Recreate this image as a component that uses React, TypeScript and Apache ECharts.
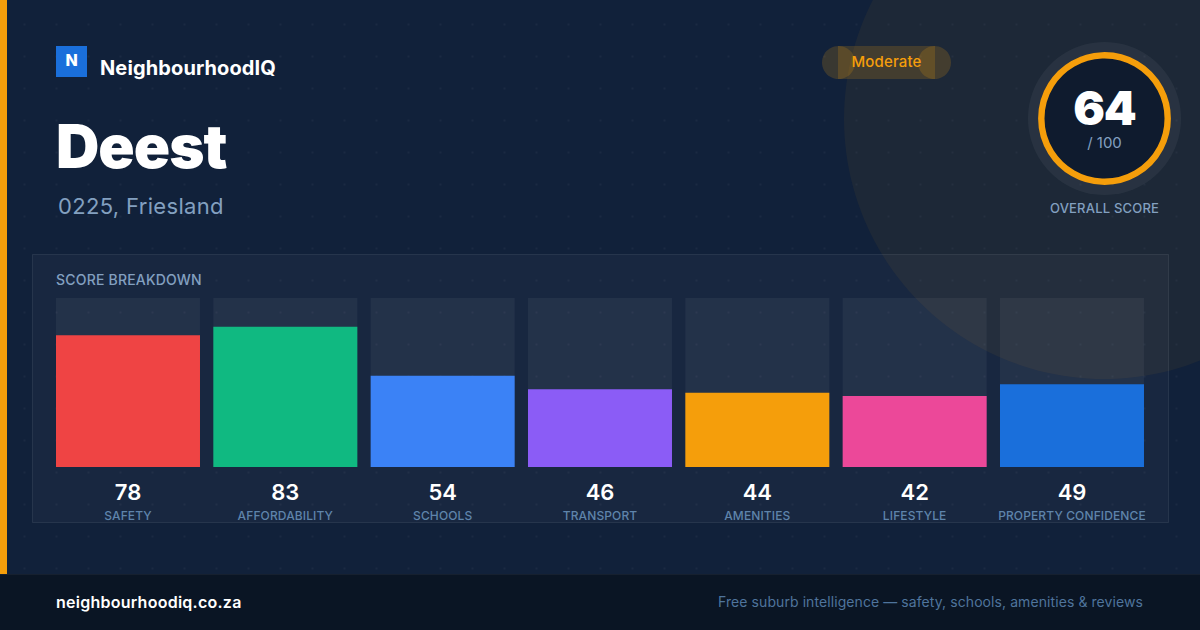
import { useEffect, useRef } from 'react'
import * as echarts from 'echarts'

const categories = ['SAFETY', 'AFFORDABILITY', 'SCHOOLS', 'TRANSPORT', 'AMENITIES', 'LIFESTYLE', 'PROPERTY CONFIDENCE']
const scores = [78, 83, 54, 46, 44, 42, 49]
const barColors = ['#ef4444', '#10b981', '#3b82f6', '#8b5cf6', '#f59e0b', '#ec4899', '#1a6fdb']
const trackValues = [100, 100, 100, 100, 100, 100, 100]

const FONT = 'Inter, "Noto Sans", sans-serif'
const AMBER = '#f59e0b'
const PILL_FILL = 'rgba(245, 158, 11, 0.18)'
const MUTED = '#83a0c0'

// zrender has no letter spacing, so it goes onto the svg text nodes after render
const letterSpacing: Record<string, number> = {
  NeighbourhoodIQ: 0.12,
  Deest: -1,
  '64': -1,
  '0225, Friesland': 0.33,
  Moderate: 0.15,
  'OVERALL SCORE': 0.2,
  'SCORE BREAKDOWN': 0.2,
  'neighbourhoodiq.co.za': 0.25,
  'Free suburb intelligence — safety, schools, amenities & reviews': 0.08
}
categories.forEach((name) => {
  letterSpacing[name] = 0.12
})

const label = (x: number, y: number, text: string, fontSize: number, fontWeight: number, fill: string, align = 'left') => ({
  type: 'text',
  x,
  y,
  style: { text, fontFamily: FONT, fontSize, fontWeight, fill, align, verticalAlign: 'middle' }
})

const App = () => {
  const chartRef = useRef<HTMLDivElement>(null)

  useEffect(() => {
    if (!chartRef.current) return
    const chart = echarts.init(chartRef.current, undefined, { renderer: 'svg' })

    const option = {
      animation: false,
      backgroundColor: 'transparent',
      // one band is 144px bar + 13.33px gap, so the grid sticks out half a gap each side
      grid: { left: 49.33, top: 298, width: 1101.33, height: 169 },
      xAxis: {
        type: 'category',
        data: categories,
        axisLine: { show: false },
        axisTick: { show: false },
        axisLabel: {
          interval: 0,
          margin: 13,
          formatter: (name: string, i: number) => `{value|${scores[i]}}\n{name|${name}}`,
          rich: {
            value: { fontFamily: FONT, fontSize: 22, fontWeight: 600, color: '#ffffff', lineHeight: 24, align: 'center' },
            name: { fontFamily: FONT, fontSize: 12, fontWeight: 500, color: '#5f84ab', lineHeight: 23, align: 'center' }
          }
        }
      },
      yAxis: { type: 'value', min: 0, max: 100, show: false },
      series: [
        {
          type: 'bar',
          data: trackValues,
          barWidth: 144,
          barGap: '-100%',
          silent: true,
          itemStyle: { color: 'rgba(255, 255, 255, 0.05)' }
        },
        {
          type: 'bar',
          data: scores.map((value, i) => ({ value, itemStyle: { color: barColors[i] } })),
          barWidth: 144,
          barGap: '-100%'
        }
      ],
      graphic: [
        // page furniture behind the bars
        { type: 'circle', shape: { cx: 1104, cy: 119, r: 260 }, style: { fill: 'rgba(245, 158, 11, 0.055)' } },
        { type: 'rect', shape: { x: 0, y: 0, width: 7, height: 574 }, style: { fill: AMBER } },
        { type: 'rect', shape: { x: 0, y: 574, width: 1200, height: 56 }, style: { fill: '#0a1524' } },
        { type: 'rect', shape: { x: 0, y: 574, width: 1200, height: 1 }, style: { fill: 'rgba(255, 255, 255, 0.05)' } },
        {
          type: 'rect',
          shape: { x: 32.5, y: 254.5, width: 1136, height: 268 },
          style: { fill: 'rgba(255, 255, 255, 0.03)', stroke: 'rgba(255, 255, 255, 0.08)', lineWidth: 1 }
        },

        // header
        { type: 'rect', shape: { x: 56, y: 46, width: 31, height: 31 }, style: { fill: '#1a6fdb' } },
        label(71.5, 60, 'N', 16, 800, '#ffffff', 'center'),
        label(100, 68, 'NeighbourhoodIQ', 20, 700, '#ffffff'),
        label(56, 146, 'Deest', 60, 900, '#ffffff'),
        label(58, 206, '0225, Friesland', 22, 400, MUTED),

        // rating pill, drawn as a bar and two end caps that overlap it
        { type: 'rect', shape: { x: 838, y: 46, width: 97, height: 33 }, style: { fill: PILL_FILL } },
        { type: 'circle', shape: { cx: 838.5, cy: 62.5, r: 16.5 }, style: { fill: PILL_FILL } },
        { type: 'circle', shape: { cx: 934.5, cy: 62.5, r: 16.5 }, style: { fill: PILL_FILL } },
        label(886.5, 61, 'Moderate', 15, 500, AMBER, 'center'),

        // overall score ring
        { type: 'circle', shape: { cx: 1104.5, cy: 118.5, r: 76.5 }, style: { fill: 'rgba(255, 255, 255, 0.05)' } },
        { type: 'circle', shape: { cx: 1104.5, cy: 118.5, r: 63.2 }, style: { fill: '#0f1b2e', stroke: AMBER, lineWidth: 6.4 } },
        label(1104.5, 107.5, '64', 47, 900, '#ffffff', 'center'),
        label(1104.5, 142, '/ 100', 15, 400, MUTED, 'center'),
        label(1104.5, 208, 'OVERALL SCORE', 13, 500, MUTED, 'center'),

        label(56, 279.5, 'SCORE BREAKDOWN', 14, 500, MUTED),

        // footer
        label(56, 601.5, 'neighbourhoodiq.co.za', 16, 600, '#ffffff'),
        label(1143, 601.5, 'Free suburb intelligence — safety, schools, amenities & reviews', 14, 400, '#4f749c', 'right')
      ]
    }

    chart.setOption(option as Record<string, unknown>)

    chartRef.current.querySelectorAll('text').forEach((node) => {
      const spacing = letterSpacing[node.textContent || '']
      if (spacing) node.style.letterSpacing = `${spacing}px`
    })

    return () => {
      chart.dispose()
    }
  }, [])

  return (
    <div
      style={{
        position: 'fixed',
        left: 0,
        top: 0,
        width: 1200,
        height: 630,
        backgroundColor: '#11213a',
        backgroundImage: 'radial-gradient(circle, rgba(255, 255, 255, 0.04) 1px, transparent 1px)',
        backgroundSize: '32px 32px',
        backgroundPosition: '8.5px 8.5px'
      }}
    >
      <div ref={chartRef} style={{ width: 1200, height: 630 }} />
    </div>
  )
}

export default App
